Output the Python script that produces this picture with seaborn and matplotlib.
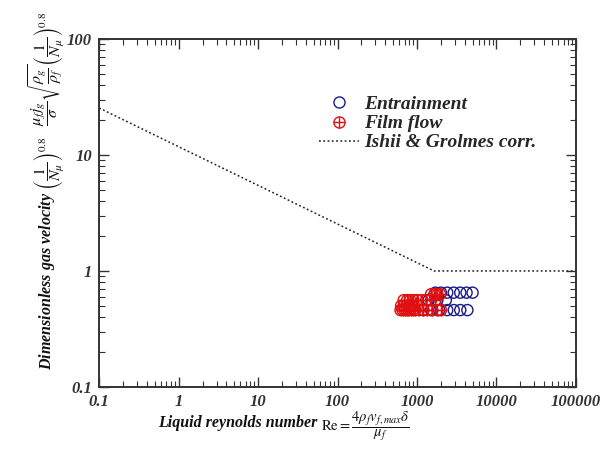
import numpy as np
import pandas as pd
import matplotlib
matplotlib.use("Agg")
import matplotlib.pyplot as plt
import seaborn as sns
from matplotlib.lines import Line2D
from matplotlib.font_manager import FontProperties

# ---- data ----
ent_re = [1700, 2000, 2400, 2900, 3500, 4200, 5000,
          1400, 1800, 2300,
          1200, 1500, 1900, 2400, 2900, 3500, 4300]
ent_y = [0.65, 0.65, 0.65, 0.65, 0.65, 0.65, 0.65,
         0.56, 0.56, 0.56,
         0.46, 0.46, 0.46, 0.46, 0.46, 0.46, 0.46]

film_re = [620, 660, 700, 740, 780, 830, 880, 950, 1050, 1200, 1350, 1550, 1800, 2000,
           630, 680, 730, 790, 850, 920,
           680, 750, 820, 900, 1000, 1150, 1300, 1500, 1700,
           1500, 1650, 1800, 1950]
film_y = [0.46] * 14 + [0.50] * 6 + [0.56] * 9 + [0.63] * 4

ig_re = [0.1, 1635, 100000]
ig_y = [25.4, 1.0, 1.0]

xticks = [0.1, 1, 10, 100, 1000, 10000, 100000]
xticklabels = ["0.1", "1", "10", "100", "1000", "10000", "100000"]
yticks = [0.1, 1, 10, 100]
yticklabels = ["0.1", "1", "10", "100"]

sns.set_theme(style="ticks")
plt.rcParams["font.family"] = ["Liberation Serif", "DejaVu Serif"]
plt.rcParams["mathtext.fontset"] = "stix"

fig = plt.figure(figsize=(6.16, 4.59), dpi=100)
ax = fig.add_axes([0.161, 0.157, 0.774, 0.758])

df_ent = pd.DataFrame({"Re": ent_re, "y": ent_y})
df_film = pd.DataFrame({"Re": film_re, "y": film_y})
df_ig = pd.DataFrame({"Re": ig_re, "y": ig_y})

sns.lineplot(data=df_ig, x="Re", y="y", ax=ax, color="#222222", lw=1.1,
             linestyle=(0, (1.2, 1.6)), legend=False)
sns.scatterplot(data=df_ent, x="Re", y="y", ax=ax, marker="o", s=64,
                facecolor="none", edgecolor="#1a1a8c", linewidth=1.0, legend=False)
sns.scatterplot(data=df_film, x="Re", y="y", ax=ax, marker="o", s=64,
                facecolor="none", edgecolor="#e01010", linewidth=1.0, legend=False)
sns.scatterplot(data=df_film, x="Re", y="y", ax=ax, marker="+", s=64,
                color="#e01010", linewidth=1.0, legend=False)

ax.set_xscale("log")
ax.set_yscale("log")
ax.set_xlim(0.1, 100000)
ax.set_ylim(0.1, 100)
ax.set_xticks(xticks)
ax.set_xticklabels(xticklabels)
ax.set_yticks(yticks)
ax.set_yticklabels(yticklabels)

tick_fp = FontProperties(family="Liberation Serif", weight="bold", style="italic", size=12)
for lab in ax.get_xticklabels() + ax.get_yticklabels():
    lab.set_fontproperties(tick_fp)
    lab.set_color("#333333")

ax.tick_params(which="both", direction="in", top=True, right=True, colors="#333333")
ax.tick_params(which="major", length=7, width=1.0, pad=5)
ax.tick_params(which="minor", length=4, width=0.8)
for sp in ax.spines.values():
    sp.set_linewidth(1.4)
    sp.set_color("#333333")

ax.set_xlabel("")
ax.set_ylabel("")

fig.text(0.516, 0.078, "Liquid reynolds number",
         ha="right", va="center", color="#111111",
         family="Liberation Serif", weight="bold", style="italic", size=11.5)
fig.text(0.521, 0.072, r"$\mathrm{Re}=\dfrac{4\rho_f v_{f,max}\delta}{\mu_f}$",
         ha="left", va="center", color="#111111", size=10.5)
fig.text(0.075, 0.585,
         "Dimensionless gas velocity " + r"$\left(\dfrac{1}{N_\mu}\right)^{0.8}$" + "   "
         + r"$\dfrac{\mu_f j_g}{\sigma}\sqrt{\dfrac{\rho_g}{\rho_f}}\left(\dfrac{1}{N_\mu}\right)^{0.8}$",
         rotation=90, ha="center", va="center", color="#111111",
         family="Liberation Serif", weight="bold", style="italic", size=11.5)

h_ent = Line2D([], [], marker="o", ls="none", markersize=8, markerfacecolor="none",
               markeredgecolor="#1a1a8c", markeredgewidth=1.0)
h_film_o = Line2D([], [], marker="o", ls="none", markersize=8, markerfacecolor="none",
                  markeredgecolor="#e01010", markeredgewidth=1.0)
h_film_p = Line2D([], [], marker="+", ls="none", markersize=8,
                  markeredgecolor="#e01010", markeredgewidth=1.0)
h_ig = Line2D([], [], color="#222222", lw=1.1, linestyle=(0, (1.2, 1.6)))
leg = fig.legend([h_ent, (h_film_o, h_film_p), h_ig],
                 ["Entrainment", "Film flow", "Ishii & Grolmes corr."],
                 loc="upper left", bbox_to_anchor=(0.49, 0.83), frameon=False,
                 prop=dict(family="Liberation Serif", weight="bold", style="italic", size=14),
                 handlelength=2.05, handletextpad=0.26, labelspacing=0.08)

fig.savefig("out.png", dpi=100)
